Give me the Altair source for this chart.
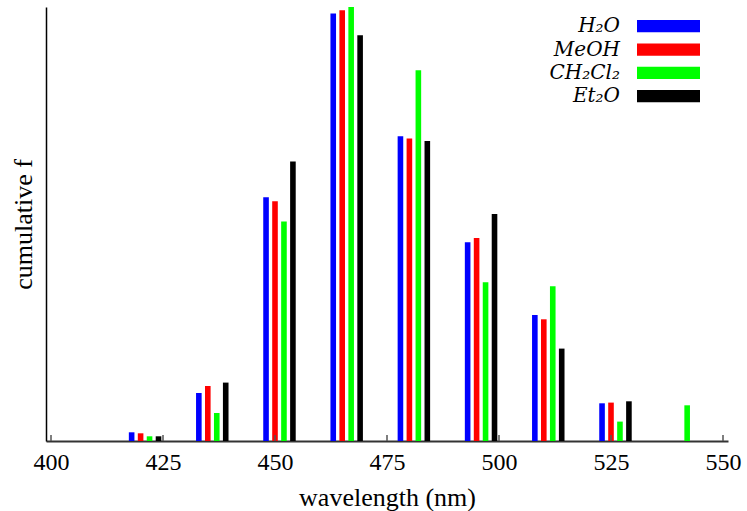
import altair as alt
import pandas as pd

solvents = ["H2O", "MeOH", "CH2Cl2", "Et2O"]
labels = ["H₂O", "MeOH", "CH₂Cl₂", "Et₂O"]
colors = ["#0000ff", "#ff0000", "#00ff00", "#000000"]

wl_h2o = [418, 433, 448, 463, 478, 493, 508, 523, 538]
wl_meoh = [420, 435, 450, 465, 480, 495, 510, 525, 540]
wl_ch2cl2 = [422, 437, 452, 467, 482, 497, 512, 527, 542]
wl_et2o = [424, 439, 454, 469, 484, 499, 514, 529, 544]

f_h2o = [8.7, 48.0, 243.7, 427.4, 304.7, 198.7, 126.0, 37.7, 0.0]
f_meoh = [7.7, 55.0, 239.7, 430.7, 302.4, 203.0, 121.7, 38.4, 0.0]
f_ch2cl2 = [4.7, 28.0, 219.4, 434.0, 370.7, 158.7, 154.7, 19.4, 35.7]
f_et2o = [4.7, 58.4, 279.4, 405.7, 300.0, 227.0, 92.4, 39.7, 0.0]

x_ticks = [400, 425, 450, 475, 500, 525, 550]

rows = []
for s, wl, f in zip(solvents, [wl_h2o, wl_meoh, wl_ch2cl2, wl_et2o],
                    [f_h2o, f_meoh, f_ch2cl2, f_et2o]):
    for w, v in zip(wl, f):
        rows.append({"solvent": s, "wavelength": w, "f": v})
df = pd.DataFrame(rows)
tick_df = pd.DataFrame({"tick": x_ticks})
leg_df = pd.DataFrame({"solvent": solvents, "label": labels})

FONT = "Liberation Serif"
color = alt.Color("solvent:N", scale=alt.Scale(domain=solvents, range=colors), legend=None)

bars = alt.Chart(df).mark_bar(orient="vertical", size=5.6).encode(
    x=alt.X("wavelength:Q",
            scale=alt.Scale(domain=[400, 550], nice=False, zero=False),
            axis=alt.Axis(values=x_ticks, ticks=False, tickSize=0, grid=False,
                          labelFont=FONT, labelFontSize=24, labelColor="black",
                          labelPadding=9, titlePadding=10, format="d",
                          domainColor="#333333", domainWidth=2),
            title="wavelength (nm)"),
    y=alt.Y("f:Q", stack=None,
            scale=alt.Scale(domain=[0, 434], nice=False),
            axis=alt.Axis(labels=False, ticks=False, tickSize=0, grid=False,
                          domainColor="#000000", domainWidth=1.5, titlePadding=10),
            title="cumulative f"),
    color=color,
)

tick_marks = alt.Chart(tick_df).mark_rule(color="#555555", strokeWidth=1.5).encode(
    x=alt.X("tick:Q"),
    y=alt.value(428),
    y2=alt.value(434),
)

leg_y = alt.Y("solvent:N",
              scale=alt.Scale(type="point", domain=solvents, range=[19.2, 89.2], padding=0),
              axis=None)

leg_sw = alt.Chart(leg_df).mark_rule(strokeWidth=12.3, strokeCap="butt").encode(
    x=alt.value(591), x2=alt.value(654), y=leg_y, color=color,
)
leg_tx = alt.Chart(leg_df).mark_text(
    align="right", baseline="middle", font="DejaVu Serif", fontStyle="italic", fontSize=20, dy=0, color="black"
).encode(x=alt.value(574), y=leg_y, text="label:N")

chart = alt.layer(bars, tick_marks, leg_sw, leg_tx).resolve_scale(y="independent").properties(
    width=682, height=434,
    padding={"left": 46, "top": 7, "right": 19, "bottom": 70},
    autosize=alt.AutoSizeParams(type="none"),
).configure_view(stroke=None).configure_axis(
    titleFont=FONT, titleFontSize=26, titleFontWeight="normal", titleColor="black",
)

chart.save("out.html", embed_options={"renderer": "svg", "actions": False})
